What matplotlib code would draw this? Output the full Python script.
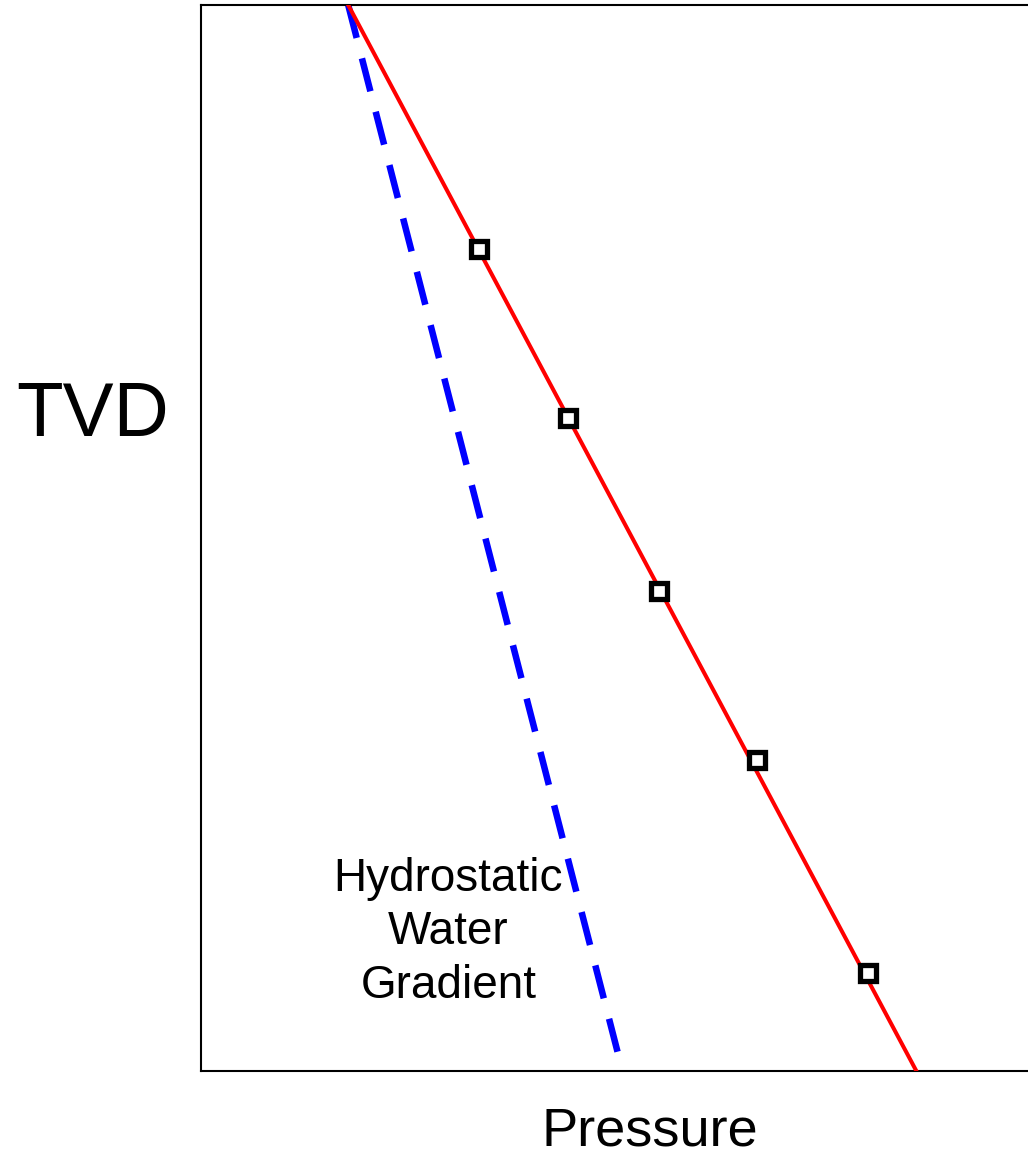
import matplotlib
matplotlib.use("Agg")
import matplotlib.pyplot as plt
import numpy as np

plt.rcParams['font.family'] = ['Liberation Sans', 'DejaVu Sans']

# Data (arbitrary units)
red_tvd = [0.0, 10.0]
red_pressure = [17.8, 86.5]
blue_tvd = [0.0, 9.89]
blue_pressure = [17.8, 50.6]
marker_tvd = [2.29, 3.87, 5.50, 7.08, 9.08]
marker_pressure = [33.6, 44.4, 55.4, 67.2, 80.6]

fig = plt.figure(figsize=(10.28, 11.55), dpi=100)
ax = fig.add_axes([201/1028, 84/1155, 827/1028, 1066/1155])
ax.set_xlim(0, 100)
ax.set_ylim(10, 0)

ax.plot(blue_pressure, blue_tvd, color='#0000ff', lw=4.7, dashes=(5.21, 3.23),
        dash_capstyle='butt', solid_capstyle='butt', zorder=2)
ax.plot(red_pressure, red_tvd, color='#ff0000', lw=2.9, zorder=3, clip_on=True)
ax.plot(marker_pressure, marker_tvd, linestyle='none', marker='s', ms=12,
        mfc='white', mec='black', mew=3.8, zorder=4)

ax.set_xticks([])
ax.set_yticks([])
for s in ['left', 'top', 'bottom']:
    ax.spines[s].set_linewidth(1.5)
ax.spines['right'].set_visible(False)

ax.text(29.9, 8.70, "Hydrostatic\nWater\nGradient", ha='center', va='center',
        fontsize=33, linespacing=1.27)

fig.text(93/1028, 1 - 416/1155, "TVD", ha='center', va='center', fontsize=55)
fig.text(650/1028, 1 - 1131/1155, "Pressure", ha='center', va='center', fontsize=39)

fig.savefig("out.png", dpi=100)
